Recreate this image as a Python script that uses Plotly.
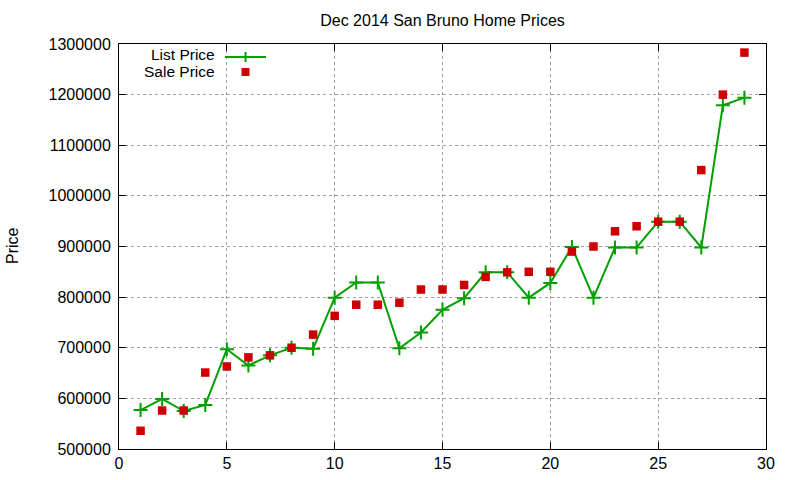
import plotly.graph_objects as go

days = list(range(1, 30))
list_price = [577000, 599000, 575000, 587000, 697000, 665000, 685000, 700000, 698000,
              799000, 829000, 829000, 699000, 730000, 775000, 798000, 849000, 849000,
              799000, 828000, 899000, 799000, 898000, 898000, 949000, 949000, 898000,
              1179000, 1194000]
sale_price = [536000, 576000, 576000, 651000, 663000, 681000, 685000, 700000, 726000,
              763000, 785000, 785000, 789000, 815000, 815000, 824000, 840000, 849000,
              850000, 850000, 890000, 900000, 930000, 940000, 949000, 949000, 1051000,
              1200000, 1283000]
x_ticks = [0, 5, 10, 15, 20, 25, 30]
y_ticks = [500000, 600000, 700000, 800000, 900000, 1000000, 1100000, 1200000, 1300000]

GREEN = "#00a000"
RED = "#cc0000"
FONT = "Liberation Sans"

L, R, T, B = 119, 766, 44, 449  # plot area in pixels
W, H = 800, 480

fig = go.Figure()
fig.add_trace(go.Scatter(
    x=days, y=list_price, mode="lines+markers", name="List Price",
    line=dict(color=GREEN, width=2),
    marker=dict(symbol="cross-thin", size=10, line=dict(color=GREEN, width=2)),
))
fig.add_trace(go.Scatter(
    x=days, y=sale_price, mode="markers", name="Sale Price",
    marker=dict(symbol="square", size=8.5, color=RED),
))

axis_common = dict(
    showline=True, linecolor="black", linewidth=1, mirror="allticks",
    ticks="inside", ticklen=7, tickcolor="black",
    showgrid=True, gridcolor="#a0a0a0", griddash="dot", gridwidth=1,
    zeroline=False, tickfont=dict(family=FONT, size=16, color="black"),
)

fig.update_layout(
    width=W, height=H,
    margin=dict(l=L, r=W - R, t=T, b=H - B, autoexpand=False),
    paper_bgcolor="white", plot_bgcolor="white",
    showlegend=False,
    title=dict(text="Dec 2014 San Bruno Home Prices", x=((L + R) / 2) / W, xanchor="center",
               y=1 - 20 / H, yanchor="middle",
               font=dict(family=FONT, size=16, color="black")),
    xaxis=dict(range=[0, 30], tickvals=x_ticks, ticktext=[str(v) for v in x_ticks], **axis_common),
    yaxis=dict(range=[500000, 1300000], tickvals=y_ticks, ticktext=[str(v) for v in y_ticks],
               ticklabelstandoff=4, **axis_common),
)

PW, PH = R - L, B - T


def px_x(p):
    return (p - L) / PW


def px_y(p):
    return (B - p) / PH


# Y axis title
fig.add_annotation(text="Price", xref="paper", yref="paper", x=px_x(12), y=px_y(246),
                   xanchor="center", yanchor="middle", textangle=-90, showarrow=False,
                   font=dict(family=FONT, size=16, color="black"))

# Manual legend (gnuplot style: text on the left, key on the right)
fig.add_annotation(text="List Price", xref="paper", yref="paper", x=px_x(217), y=px_y(55),
                   xanchor="right", yanchor="middle", showarrow=False,
                   font=dict(family=FONT, size=15.5, color="black"))
fig.add_annotation(text="Sale Price", xref="paper", yref="paper", x=px_x(217), y=px_y(72),
                   xanchor="right", yanchor="middle", showarrow=False,
                   font=dict(family=FONT, size=15.5, color="black"))
fig.add_shape(type="line", xref="paper", yref="paper", x0=px_x(225), x1=px_x(266),
              y0=px_y(57), y1=px_y(57), line=dict(color=GREEN, width=2))
fig.add_shape(type="line", xref="paper", yref="paper", x0=px_x(245.5), x1=px_x(245.5),
              y0=px_y(52), y1=px_y(62), line=dict(color=GREEN, width=2))
fig.add_shape(type="rect", xref="paper", yref="paper", x0=px_x(241.5), x1=px_x(249.5),
              y0=px_y(68), y1=px_y(76), line=dict(width=0), fillcolor=RED)

fig.write_html("out.html", config={"displayModeBar": False},
               post_script="document.body.style.margin='0';")
